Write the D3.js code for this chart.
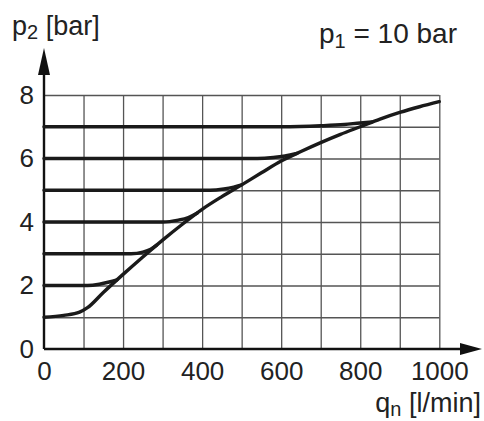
<!DOCTYPE html>
<html>
<head>
<meta charset="utf-8">
<script src="https://cdn.jsdelivr.net/npm/d3@7"></script>
<style>
  body { margin: 0; background: #fff; }
  svg text { font-family: "Liberation Sans", Arial, sans-serif; fill: #222; }
</style>
</head>
<body>
<div id="chart"></div>
<script>
// tick labels
const qTicks = [0, 200, 400, 600, 800, 1000];
const pTicks = [0, 2, 4, 6, 8];
const qGrid = [100, 200, 300, 400, 500, 600, 700, 800, 900, 1000];
const pGrid = [1, 2, 3, 4, 5, 6, 7, 8];

// lowest curve (p2 = 1) which is also the envelope the others run into
const envQ = [0, 50, 90, 110, 150, 200, 250, 300, 350, 400, 450, 500, 550, 600, 650, 700, 750, 800, 850, 900, 950, 1000];
const envP = [1.0, 1.06, 1.16, 1.3, 1.78, 2.35, 2.9, 3.43, 3.93, 4.4, 4.8, 5.17, 5.55, 5.92, 6.22, 6.5, 6.76, 7.0, 7.24, 7.45, 7.63, 7.79];

// set point curves, flat part up to where they join the envelope
const set2Q = [0, 110, 140, 165, 185];
const set2P = [2, 2, 2.04, 2.11, 2.18];
const set3Q = [0, 220, 250, 270, 285];
const set3P = [3, 3, 3.05, 3.14, 3.27];
const set4Q = [0, 300, 340, 365, 388];
const set4P = [4, 4, 4.06, 4.14, 4.28];
const set5Q = [0, 420, 455, 480, 500];
const set5P = [5, 5, 5.04, 5.1, 5.17];
const set6Q = [0, 540, 580, 610, 640];
const set6P = [6, 6, 6.03, 6.08, 6.16];
const set7Q = [0, 600, 700, 760, 800, 830];
const set7P = [7, 7, 7.03, 7.07, 7.12, 7.15];

const w = 484, h = 421;
const x = d3.scaleLinear().domain([0, 1000]).range([44, 439.3]);
const y = d3.scaleLinear().domain([0, 8]).range([349, 95]);

const svg = d3.select("#chart").append("svg")
  .attr("width", w)
  .attr("height", h);

// grid
const gx = svg.append("g")
  .attr("transform", "translate(0," + y(0) + ")")
  .call(d3.axisBottom(x).tickValues(qGrid).tickSize(-(y(0) - y(8))).tickFormat(""));
const gy = svg.append("g")
  .attr("transform", "translate(" + x(0) + ",0)")
  .call(d3.axisLeft(y).tickValues(pGrid).tickSize(-(x(1000) - x(0))).tickFormat(""));
[gx, gy].forEach(function(g) {
  g.select(".domain").remove();
  g.selectAll(".tick line").attr("stroke", "#555").attr("stroke-width", 1.3);
});

// tick labels
const ax = svg.append("g")
  .attr("transform", "translate(0," + y(0) + ")")
  .call(d3.axisBottom(x).tickValues(qTicks).tickFormat(d3.format("d")).tickSize(0).tickPadding(13));
const ay = svg.append("g")
  .attr("transform", "translate(" + x(0) + ",0)")
  .call(d3.axisLeft(y).tickValues(pTicks).tickSize(0).tickPadding(10));
[ax, ay].forEach(function(g) {
  g.select(".domain").remove();
  g.selectAll("text").attr("font-size", 26).attr("font-family", null).attr("fill", "#222");
});

// axis lines with arrows
svg.append("line")
  .attr("x1", x(0)).attr("y1", y(0)).attr("x2", x(0)).attr("y2", 70)
  .attr("stroke", "#111").attr("stroke-width", 2.4);
svg.append("line")
  .attr("x1", x(0)).attr("y1", y(0)).attr("x2", 465).attr("y2", y(0))
  .attr("stroke", "#111").attr("stroke-width", 2.4);
svg.append("path")
  .attr("d", "M" + x(0) + ",48L" + (x(0) - 6) + ",75L" + (x(0) + 6) + ",75Z")
  .attr("fill", "#111");
svg.append("path")
  .attr("d", "M482," + y(0) + "L460," + (y(0) - 6) + "L460," + (y(0) + 6) + "Z")
  .attr("fill", "#111");

// curves
const line = d3.line()
  .x(d => x(d[0]))
  .y(d => y(d[1]))
  .curve(d3.curveMonotoneX);
const curves = [
  [envQ, envP], [set2Q, set2P], [set3Q, set3P], [set4Q, set4P],
  [set5Q, set5P], [set6Q, set6P], [set7Q, set7P]
];
svg.selectAll(".curve")
  .data(curves.map(c => c[0].map((q, i) => [q, c[1][i]])))
  .enter()
  .append("path")
  .attr("class", "curve")
  .attr("d", line)
  .attr("fill", "none")
  .attr("stroke", "#1a1a1a")
  .attr("stroke-width", 3.4)
  .attr("stroke-linecap", "round")
  .attr("stroke-linejoin", "round");

// axis titles
const t1 = svg.append("text").attr("x", 12).attr("y", 35).attr("font-size", 27);
t1.append("tspan").text("p");
t1.append("tspan").attr("font-size", 20).attr("dy", 4).text("2");
t1.append("tspan").attr("dy", -4).text(" [bar]");

const t2 = svg.append("text").attr("x", 319).attr("y", 43).attr("font-size", 28);
t2.append("tspan").text("p");
t2.append("tspan").attr("font-size", 20).attr("dy", 5).text("1");
t2.append("tspan").attr("dy", -5).text(" = 10 bar");

const t3 = svg.append("text").attr("x", 481).attr("y", 412).attr("font-size", 27)
  .attr("text-anchor", "end");
t3.append("tspan").text("q");
t3.append("tspan").attr("font-size", 20).attr("dy", 4).text("n");
t3.append("tspan").attr("dy", -4).text(" [l/min]");
</script>
</body>
</html>
